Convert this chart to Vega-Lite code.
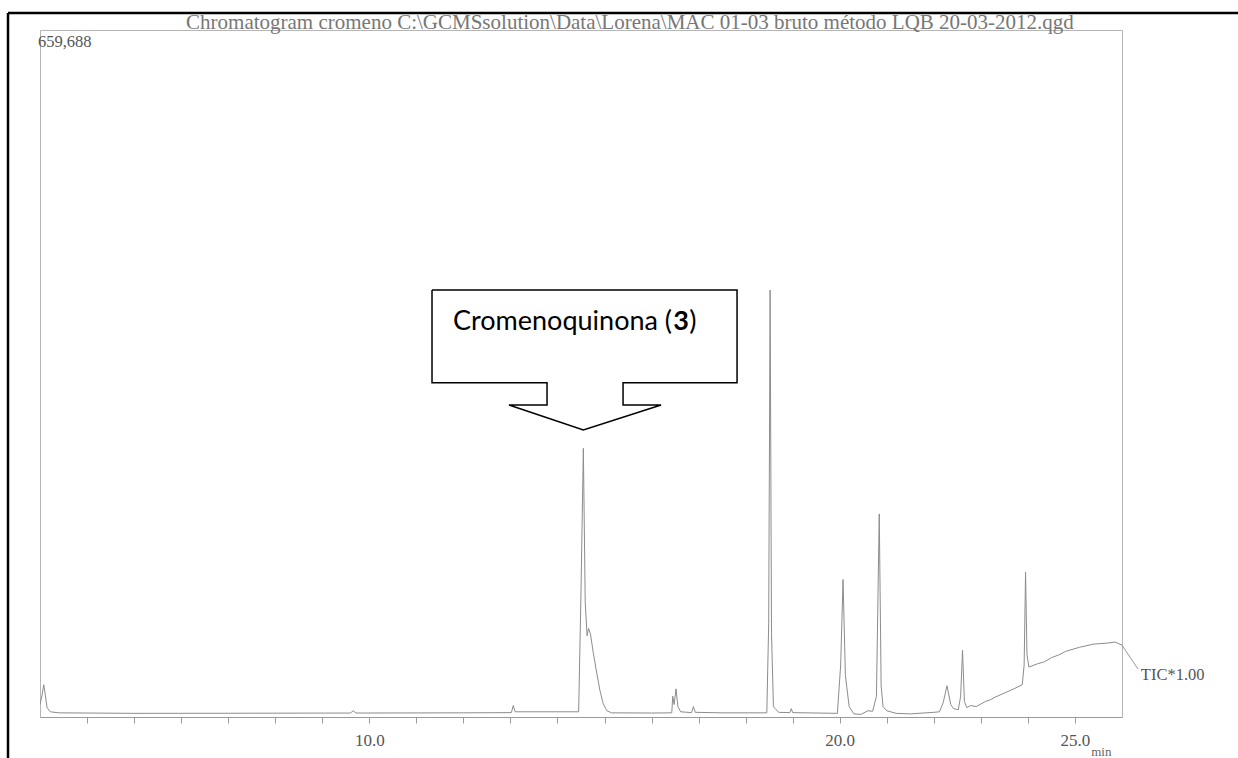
{
  "$schema": "https://vega.github.io/schema/vega-lite/v6.json",
  "width": 1082,
  "height": 687,
  "autosize": {"type": "none"},
  "padding": {"left": 40, "top": 30, "right": 116, "bottom": 41},
  "background": "white",
  "config": {"view": {"stroke": "#b5b5b5", "strokeWidth": 1}},
  "datasets": {
    "trace": [
      {"t": 3.00, "v": 12000}, {"t": 3.04, "v": 20000}, {"t": 3.08, "v": 31000}, {"t": 3.11, "v": 22000}, {"t": 3.15, "v": 9000}, {"t": 3.22, "v": 5000}, {"t": 3.4, "v": 4000}, {"t": 5.0, "v": 3500}, {"t": 7.0, "v": 3600}, {"t": 9.6, "v": 3800}, {"t": 9.66, "v": 6000}, {"t": 9.72, "v": 3800}, {"t": 12.0, "v": 4000}, {"t": 13.02, "v": 4200}, {"t": 13.06, "v": 11000}, {"t": 13.1, "v": 5000}, {"t": 13.5, "v": 5000}, {"t": 14.45, "v": 5000}, {"t": 14.5, "v": 120000}, {"t": 14.55, "v": 258000}, {"t": 14.59, "v": 110000}, {"t": 14.63, "v": 78000}, {"t": 14.66, "v": 85000}, {"t": 14.7, "v": 80000}, {"t": 14.76, "v": 62000}, {"t": 14.82, "v": 46000}, {"t": 14.9, "v": 26000}, {"t": 14.97, "v": 13000}, {"t": 15.05, "v": 6000}, {"t": 15.15, "v": 4000}, {"t": 16.0, "v": 3800}, {"t": 16.43, "v": 4000}, {"t": 16.45, "v": 20000}, {"t": 16.48, "v": 12000}, {"t": 16.52, "v": 27000}, {"t": 16.56, "v": 10000}, {"t": 16.62, "v": 5000}, {"t": 16.85, "v": 4200}, {"t": 16.89, "v": 10000}, {"t": 16.93, "v": 4500}, {"t": 17.5, "v": 4000}, {"t": 18.45, "v": 4000}, {"t": 18.49, "v": 90000}, {"t": 18.52, "v": 410000}, {"t": 18.55, "v": 80000}, {"t": 18.59, "v": 10000}, {"t": 18.63, "v": 8000}, {"t": 18.7, "v": 4500}, {"t": 18.94, "v": 4200}, {"t": 18.97, "v": 8000}, {"t": 19.0, "v": 4200}, {"t": 19.95, "v": 3500}, {"t": 20.02, "v": 50000}, {"t": 20.07, "v": 132000}, {"t": 20.12, "v": 40000}, {"t": 20.2, "v": 10000}, {"t": 20.3, "v": 3000}, {"t": 20.45, "v": 2500}, {"t": 20.6, "v": 6000}, {"t": 20.7, "v": 5500}, {"t": 20.78, "v": 20000}, {"t": 20.84, "v": 195000}, {"t": 20.88, "v": 30000}, {"t": 20.92, "v": 10000}, {"t": 21.0, "v": 6000}, {"t": 21.2, "v": 3500}, {"t": 21.5, "v": 3000}, {"t": 22.0, "v": 4500}, {"t": 22.12, "v": 5000}, {"t": 22.2, "v": 14000}, {"t": 22.28, "v": 30000}, {"t": 22.36, "v": 12000}, {"t": 22.42, "v": 8000}, {"t": 22.52, "v": 7000}, {"t": 22.57, "v": 20000}, {"t": 22.61, "v": 64000}, {"t": 22.65, "v": 15000}, {"t": 22.7, "v": 9000}, {"t": 22.78, "v": 11000}, {"t": 22.9, "v": 10000}, {"t": 23.1, "v": 15000}, {"t": 23.2, "v": 16500}, {"t": 23.3, "v": 19000}, {"t": 23.5, "v": 23000}, {"t": 23.7, "v": 27000}, {"t": 23.88, "v": 31000}, {"t": 23.92, "v": 50000}, {"t": 23.95, "v": 139000}, {"t": 23.98, "v": 60000}, {"t": 24.02, "v": 48000}, {"t": 24.2, "v": 51000}, {"t": 24.35, "v": 53000}, {"t": 24.5, "v": 57000}, {"t": 24.65, "v": 59500}, {"t": 24.8, "v": 63000}, {"t": 25.1, "v": 67000}, {"t": 25.4, "v": 70000}, {"t": 25.7, "v": 71000}, {"t": 25.85, "v": 72000}, {"t": 26.0, "v": 69000}
    ],
    "callout": [
      {"i": 0, "t": 11.333, "v": 410000}, {"i": 1, "t": 17.817, "v": 410000}, {"i": 2, "t": 17.817, "v": 321000}, {"i": 3, "t": 15.394, "v": 321000}, {"i": 4, "t": 15.394, "v": 299600}, {"i": 5, "t": 16.202, "v": 299600}, {"i": 6, "t": 14.55, "v": 275600}, {"i": 7, "t": 12.97, "v": 299600}, {"i": 8, "t": 13.778, "v": 299600}, {"i": 9, "t": 13.778, "v": 321000}, {"i": 10, "t": 11.333, "v": 321000}, {"i": 11, "t": 11.333, "v": 410000}
    ],
    "border": [
      {"seg": "left", "i": 0, "t": 2.32, "v": -40000}, {"seg": "left", "i": 1, "t": 2.32, "v": 676000},
      {"seg": "top", "i": 0, "t": 2.32, "v": 676000}, {"seg": "top", "i": 1, "t": 28.5, "v": 676000}
    ],
    "tic": [
      {"i": 0, "t": 26.0, "v": 69000}, {"i": 1, "t": 26.34, "v": 46000}
    ],
    "leftlabels": [
      {"t": 2.957, "v": 648000, "txt": "659,688"},
      {"t": 26.4, "v": 40300, "txt": "TIC*1.00"}
    ],
    "centerlabels": [
      {"t": 25.56, "v": -33500, "txt": "min", "size": 13, "col": "#666666"},
      {"t": 15.54, "v": 666300, "txt": "Chromatogram cromeno C:\\GCMSsolution\\Data\\Lorena\\MAC 01-03 bruto método LQB 20-03-2012.qgd", "size": 21, "col": "#777777"}
    ],
    "ann": [
      {"t": 11.78, "v": 379300, "txt": "Cromenoquinona ("},
      {"t": 16.8, "v": 379300, "txt": ")"}
    ],
    "annbold": [
      {"t": 16.46, "v": 379300, "txt": "3"}
    ]
  },
  "layer": [
    {
      "data": {"name": "trace"},
      "mark": {"type": "line", "color": "#8c8c8c", "strokeWidth": 1, "clip": true},
      "encoding": {
        "x": {"field": "t", "type": "quantitative", "scale": {"domain": [3, 26], "nice": false, "zero": false},
          "axis": {"values": [4,5,6,7,8,9,10,11,12,13,14,15,16,17,18,19,20,21,22,23,24,25], "labelExpr": "datum.value == 10 || datum.value == 20 || datum.value == 25 ? format(datum.value, '.1f') : ''", "title": null, "grid": false, "domainColor": "#9a9a9a", "tickColor": "#9a9a9a", "tickSize": 6, "labelFont": "Liberation Serif", "labelFontSize": 17, "labelColor": "#555555", "labelPadding": 9}},
        "y": {"field": "v", "type": "quantitative", "scale": {"domain": [0, 659688], "nice": false}, "axis": null}
      }
    },
    {
      "data": {"name": "callout"},
      "mark": {"type": "line", "color": "black", "strokeWidth": 1.5, "strokeJoin": "miter"},
      "encoding": {
        "x": {"field": "t", "type": "quantitative"},
        "y": {"field": "v", "type": "quantitative"},
        "order": {"field": "i"}
      }
    },
    {
      "data": {"name": "border"},
      "mark": {"type": "line", "color": "black", "strokeWidth": 2.5},
      "encoding": {
        "x": {"field": "t", "type": "quantitative"},
        "y": {"field": "v", "type": "quantitative"},
        "detail": {"field": "seg"},
        "order": {"field": "i"}
      }
    },
    {
      "data": {"name": "tic"},
      "mark": {"type": "line", "color": "#9a9a9a", "strokeWidth": 1},
      "encoding": {
        "x": {"field": "t", "type": "quantitative"},
        "y": {"field": "v", "type": "quantitative"},
        "order": {"field": "i"}
      }
    },
    {
      "data": {"name": "leftlabels"},
      "mark": {"type": "text", "font": "Liberation Serif", "baseline": "middle", "align": "left", "color": "#555555", "fontSize": 16.5},
      "encoding": {
        "x": {"field": "t", "type": "quantitative"},
        "y": {"field": "v", "type": "quantitative"},
        "text": {"field": "txt"}
      }
    },
    {
      "data": {"name": "centerlabels"},
      "mark": {"type": "text", "font": "Liberation Serif", "baseline": "middle", "align": "center"},
      "encoding": {
        "x": {"field": "t", "type": "quantitative"},
        "y": {"field": "v", "type": "quantitative"},
        "text": {"field": "txt"},
        "size": {"field": "size", "type": "quantitative", "scale": null},
        "color": {"field": "col", "type": "nominal", "scale": null}
      }
    },
    {
      "data": {"name": "ann"},
      "mark": {"type": "text", "font": "Lato", "fontSize": 27, "align": "left", "baseline": "middle", "color": "black"},
      "encoding": {
        "x": {"field": "t", "type": "quantitative"},
        "y": {"field": "v", "type": "quantitative"},
        "text": {"field": "txt"}
      }
    },
    {
      "data": {"name": "annbold"},
      "mark": {"type": "text", "font": "Lato", "fontSize": 27, "fontWeight": "bold", "align": "left", "baseline": "middle", "color": "black"},
      "encoding": {
        "x": {"field": "t", "type": "quantitative"},
        "y": {"field": "v", "type": "quantitative"},
        "text": {"field": "txt"}
      }
    }
  ]
}
